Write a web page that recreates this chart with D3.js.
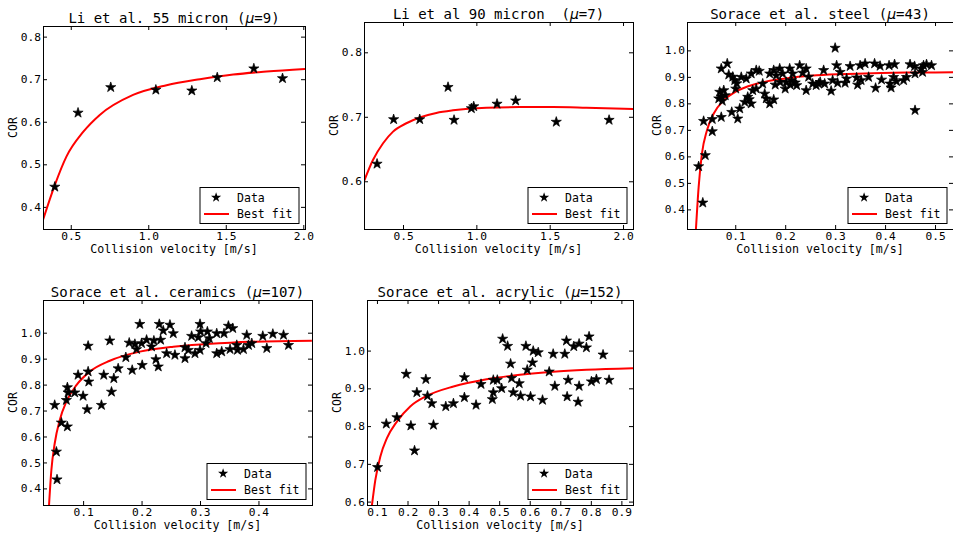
<!DOCTYPE html>
<html>
<head>
<meta charset="utf-8">
<script src="https://cdn.jsdelivr.net/npm/d3@7"></script>
<style>
  body { margin: 0; background: #fff; }
  svg text { font-family: "DejaVu Sans Mono", monospace; fill: #000; }
</style>
</head>
<body>
<svg width="953" height="536"></svg>
<script>
// values: collision velocity [m/s] vs COR

var li55Vel = [0.397, 0.547, 0.758, 1.049, 1.281, 1.445, 1.681, 1.866];
var li55Cor = [0.447, 0.621, 0.681, 0.675, 0.673, 0.704, 0.725, 0.702];
var li55FitVel = [0.321, 0.397, 0.472, 0.580, 0.687, 0.902, 1.118, 1.333, 1.548, 1.763, 2.011];
var li55FitCor = [0.369, 0.451, 0.518, 0.576, 0.616, 0.663, 0.686, 0.700, 0.711, 0.718, 0.724];

var li90Vel = [0.323, 0.436, 0.614, 0.807, 0.848, 0.966, 0.982, 1.141, 1.268, 1.545, 1.905];
var li90Cor = [0.627, 0.696, 0.696, 0.746, 0.695, 0.713, 0.716, 0.720, 0.725, 0.692, 0.695];
var li90FitVel = [0.234, 0.295, 0.364, 0.432, 0.523, 0.614, 0.727, 0.841, 1.068, 1.295, 1.523, 1.75, 2.068];
var li90FitCor = [0.600, 0.633, 0.659, 0.677, 0.690, 0.699, 0.706, 0.710, 0.714, 0.715, 0.715, 0.714, 0.712];

var steelPts = [
  [0.0267,0.562],[0.035,0.425],[0.040,0.604],[0.0367,0.733],[0.054,0.740],[0.054,0.694],[0.072,0.748],
  [0.093,0.767],[0.105,0.742],[0.109,0.780],[0.072,0.931],[0.084,0.950],[0.087,0.908],[0.069,0.843],
  [0.077,0.849],[0.067,0.818],[0.074,0.809],[0.080,0.830],[0.072,0.825],[0.099,0.887],[0.103,0.875],
  [0.101,0.855],[0.095,0.900],[0.112,0.899],[0.122,0.893],[0.132,0.912],[0.142,0.925],[0.148,0.922],
  [0.125,0.824],[0.119,0.805],[0.132,0.799],[0.128,0.815],[0.135,0.849],[0.142,0.855],[0.155,0.874],
  [0.159,0.836],[0.162,0.818],[0.169,0.799],[0.177,0.814],[0.169,0.912],[0.177,0.925],[0.182,0.905],
  [0.189,0.931],[0.195,0.912],[0.180,0.870],[0.190,0.880],[0.202,0.880],[0.210,0.870],[0.220,0.878],
  [0.209,0.931],[0.215,0.912],[0.229,0.943],[0.242,0.931],[0.235,0.915],[0.242,0.849],[0.255,0.874],
  [0.200,0.855],[0.213,0.887],[0.223,0.868],[0.262,0.868],[0.247,0.900],[0.270,0.880],[0.300,1.009],
  [0.277,0.925],[0.267,0.874],[0.279,0.874],[0.292,0.847],[0.295,0.887],[0.303,0.943],[0.305,0.877],
  [0.310,0.918],[0.320,0.877],[0.323,0.893],[0.330,0.940],[0.343,0.897],[0.345,0.870],[0.352,0.887],
  [0.350,0.943],[0.360,0.950],[0.367,0.899],[0.379,0.950],[0.381,0.858],[0.390,0.941],[0.393,0.889],
  [0.408,0.943],[0.419,0.947],[0.412,0.859],[0.410,0.874],[0.417,0.899],[0.423,0.883],[0.437,0.887],
  [0.443,0.899],[0.450,0.947],[0.460,0.774],[0.460,0.912],[0.459,0.940],[0.472,0.931],[0.477,0.943],
  [0.483,0.947],[0.493,0.943],[0.475,0.918]
];
var steelFitVel = [0.0213, 0.0267, 0.0333, 0.0433, 0.0567, 0.0767, 0.1, 0.143, 0.197, 0.263, 0.343, 0.443, 0.536];
var steelFitCor = [0.326, 0.484, 0.610, 0.698, 0.761, 0.811, 0.843, 0.874, 0.893, 0.906, 0.912, 0.916, 0.917];

var ceramicPts = [
  [0.0514,0.721],[0.0543,0.541],[0.0554,0.434],[0.0629,0.653],[0.0731,0.638],[0.0714,0.740],[0.0731,0.789],
  [0.0743,0.769],[0.0857,0.769],[0.0914,0.837],[0.1,0.756],[0.1069,0.704],[0.1086,0.850],[0.1097,0.811],
  [0.1086,0.949],[0.1314,0.721],[0.1354,0.837],[0.1457,0.969],[0.1486,0.772],[0.1526,0.824],[0.16,0.862],
  [0.1731,0.905],[0.1789,0.961],[0.184,0.856],[0.1886,0.956],[0.1914,0.936],[0.1971,1.033],[0.2011,0.875],
  [0.2,0.959],[0.2086,0.972],[0.2171,0.946],[0.2211,0.969],[0.2246,0.897],[0.2286,0.869],[0.2303,1.033],
  [0.2326,0.972],[0.2371,1.008],[0.2429,0.920],[0.2486,1.030],[0.2543,0.997],[0.2571,0.914],[0.2743,0.901],
  [0.2743,0.943],[0.28,0.933],[0.2857,0.987],[0.2914,0.920],[0.2971,0.982],[0.3,1.033],[0.3,0.933],
  [0.3011,1.004],[0.3103,0.959],[0.3126,1.004],[0.316,0.978],[0.3286,0.920],[0.3286,0.997],[0.3371,0.927],
  [0.3411,0.997],[0.3486,1.026],[0.356,1.017],[0.3514,0.936],[0.364,0.933],[0.3629,0.952],[0.3743,0.936],
  [0.38,0.991],[0.3829,0.952],[0.3886,0.959],[0.4074,0.987],[0.4143,0.940],[0.4246,0.995],[0.4429,0.991],
  [0.4514,0.952]
];
var ceramicFitVel = [0.0417, 0.0457, 0.0514, 0.06, 0.0714, 0.0886, 0.1114, 0.1457, 0.1971, 0.2543, 0.3114, 0.3857, 0.4914];
var ceramicFitCor = [0.335, 0.470, 0.573, 0.663, 0.734, 0.798, 0.850, 0.892, 0.927, 0.946, 0.956, 0.965, 0.969];

var acrylicPts = [
  [0.102,0.691],[0.1305,0.806],[0.1653,0.823],[0.1958,0.938],[0.211,0.801],[0.223,0.735],[0.2306,0.889],
  [0.26,0.924],[0.2654,0.880],[0.2795,0.860],[0.285,0.803],[0.3252,0.852],[0.3503,0.860],[0.3862,0.929],
  [0.3862,0.876],[0.4243,0.856],[0.4406,0.911],[0.4776,0.871],[0.4808,0.889],[0.4808,0.922],[0.4939,0.922],
  [0.508,0.900],[0.5113,1.031],[0.5276,1.012],[0.5374,0.965],[0.5407,0.927],[0.5461,0.889],[0.5657,0.913],
  [0.5701,0.880],[0.5875,1.012],[0.5918,0.949],[0.6027,0.878],[0.6092,0.968],[0.6114,0.999],[0.6278,0.995],
  [0.6419,0.869],[0.6637,0.944],[0.6767,0.991],[0.6822,0.906],[0.7148,0.991],[0.7202,1.026],[0.7257,0.922],
  [0.7224,0.878],[0.7441,1.011],[0.7616,1.018],[0.7616,0.906],[0.7583,0.864],[0.7855,1.008],[0.7942,1.037],
  [0.8019,0.918],[0.8182,0.924],[0.84,0.989],[0.8596,0.922]
];
var acrylicFitVel = [0.0837, 0.0946, 0.1109, 0.1326, 0.1653, 0.2088, 0.2632, 0.3503, 0.4591, 0.5679, 0.6767, 0.7855, 0.938];
var acrylicFitCor = [0.591, 0.657, 0.719, 0.768, 0.812, 0.852, 0.880, 0.905, 0.924, 0.936, 0.944, 0.949, 0.953];

var titles = [
  ["Li et al. 55 micron (", "9)"],
  ["Li et al 90 micron  (", "7)"],
  ["Sorace et al. steel (", "43)"],
  ["Sorace et al. ceramics (", "107)"],
  ["Sorace et al. acrylic (", "152)"]
];
var xTicksLi = [0.5, 1.0, 1.5, 2.0];
var xTicksSteel = [0.1, 0.2, 0.3, 0.4, 0.5];
var xTicksCeramic = [0.1, 0.2, 0.3, 0.4];
var xTicksAcrylic = [0.1, 0.2, 0.3, 0.4, 0.5, 0.6, 0.7, 0.8, 0.9];
var yTicks55 = [0.4, 0.5, 0.6, 0.7, 0.8];
var yTicks90 = [0.6, 0.7, 0.8];
var yTicksSorace = [0.4, 0.5, 0.6, 0.7, 0.8, 0.9, 1.0];
var yTicksAcrylic = [0.6, 0.7, 0.8, 0.9, 1.0];

function zip(a, b) { return a.map(function(v, i) { return [v, b[i]]; }); }

var panels = [
  {box: [43, 26, 305, 229], xDom: [0.321, 2.011], yDom: [0.348, 0.825], xt: xTicksLi, yt: yTicks55,
   pts: zip(li55Vel, li55Cor), fit: zip(li55FitVel, li55FitCor)},
  {box: [364, 22, 633, 229], xDom: [0.234, 2.068], yDom: [0.526, 0.847], xt: xTicksLi, yt: yTicks90,
   pts: zip(li90Vel, li90Cor), fit: zip(li90FitVel, li90FitCor)},
  {box: [687, 22, 953, 229], xDom: [0.0034, 0.536], yDom: [0.326, 1.107], xt: xTicksSteel, yt: yTicksSorace,
   pts: steelPts, fit: zip(steelFitVel, steelFitCor)},
  {box: [43, 300, 312, 505], xDom: [0.0314, 0.4916], yDom: [0.336, 1.126], xt: xTicksCeramic, yt: yTicksSorace,
   pts: ceramicPts, fit: zip(ceramicFitVel, ceramicFitCor)},
  {box: [367, 300, 633, 505], xDom: [0.0674, 0.938], yDom: [0.591, 1.134], xt: xTicksAcrylic, yt: yTicksAcrylic,
   pts: acrylicPts, fit: zip(acrylicFitVel, acrylicFitCor)}
];

var svg = d3.select("svg");
var fmt = d3.format(".1f");
var star = d3.symbol().type(d3.symbolStar).size(32);

function styleAxis(sel) {
  sel.select(".domain").remove();
  sel.attr("font-family", "DejaVu Sans Mono").attr("font-size", 11.2);
  sel.selectAll("line").attr("stroke", "#000");
}

panels.forEach(function(p, i) {
  var l = p.box[0], t = p.box[1], r = p.box[2], b = p.box[3];
  var x = d3.scaleLinear().domain(p.xDom).range([l, r]);
  var y = d3.scaleLinear().domain(p.yDom).range([b, t]);
  var g = svg.append("g");

  svg.append("clipPath").attr("id", "clip" + i)
    .append("rect").attr("x", l).attr("y", t).attr("width", r - l).attr("height", b - t);

  g.append("g").attr("transform", "translate(0," + b + ")")
    .call(d3.axisBottom(x).tickValues(p.xt).tickFormat(fmt).tickSize(-4).tickPadding(3)).call(styleAxis);
  g.append("g").attr("transform", "translate(0," + t + ")")
    .call(d3.axisTop(x).tickValues(p.xt).tickFormat("").tickSize(-4)).call(styleAxis);
  g.append("g").attr("transform", "translate(" + l + ",0)")
    .call(d3.axisLeft(y).tickValues(p.yt).tickFormat(fmt).tickSize(-4).tickPadding(2)).call(styleAxis);
  g.append("g").attr("transform", "translate(" + r + ",0)")
    .call(d3.axisRight(y).tickValues(p.yt).tickFormat("").tickSize(-4)).call(styleAxis);

  var plot = g.append("g").attr("clip-path", "url(#clip" + i + ")");

  plot.append("path").datum(p.fit)
    .attr("fill", "none").attr("stroke", "#ff0000").attr("stroke-width", 2)
    .attr("d", d3.line().x(function(d) { return x(d[0]); }).y(function(d) { return y(d[1]); }).curve(d3.curveMonotoneX));

  plot.selectAll(".star").data(p.pts).enter().append("path")
    .attr("class", "star")
    .attr("transform", function(d) { return "translate(" + x(d[0]) + "," + y(d[1]) + ")"; })
    .attr("d", star).attr("fill", "#000").attr("stroke", "#000").attr("stroke-width", 0.7);

  g.append("rect").attr("x", l + 0.5).attr("y", t + 0.5)
    .attr("width", r - l).attr("height", b - t)
    .attr("fill", "none").attr("stroke", "#000").attr("stroke-width", 1);

  // title with italic mu
  var title = g.append("text").attr("x", (l + r) / 2).attr("y", t - 3)
    .attr("text-anchor", "middle").attr("font-size", 14).style("white-space", "pre");
  title.append("tspan").text(titles[i][0]);
  title.append("tspan").attr("font-family", "DejaVu Sans").attr("font-style", "italic").text("\u03bc");
  title.append("tspan").text("=" + titles[i][1]);

  g.append("text").attr("x", (l + r) / 2).attr("y", b + 24)
    .attr("text-anchor", "middle").attr("font-size", 11.6).text("Collision velocity [m/s]");
  g.append("text").attr("transform", "translate(" + (l - 26) + "," + ((t + b) / 2) + ") rotate(-90)")
    .attr("text-anchor", "middle").attr("font-size", 11.6).text("COR");

  // legend
  var lw = 99, lh = 36;
  var lg = g.append("g").attr("transform", "translate(" + (r - 6.5 - lw) + "," + (b - 6 - lh) + ")");
  lg.append("rect").attr("x", 0.5).attr("y", 0.5).attr("width", lw).attr("height", lh)
    .attr("fill", "#fff").attr("stroke", "#000").attr("stroke-width", 1);
  lg.append("path").attr("transform", "translate(16.6,10.5)").attr("d", star).attr("fill", "#000");
  lg.append("line").attr("x1", 4.5).attr("x2", 29.5).attr("y1", 27).attr("y2", 27)
    .attr("stroke", "#ff0000").attr("stroke-width", 2);
  lg.append("text").attr("x", 37.6).attr("y", 14.6).attr("font-size", 11.5).text("Data");
  lg.append("text").attr("x", 37.6).attr("y", 31.2).attr("font-size", 11.5).text("Best fit");
});
</script>
</body>
</html>
